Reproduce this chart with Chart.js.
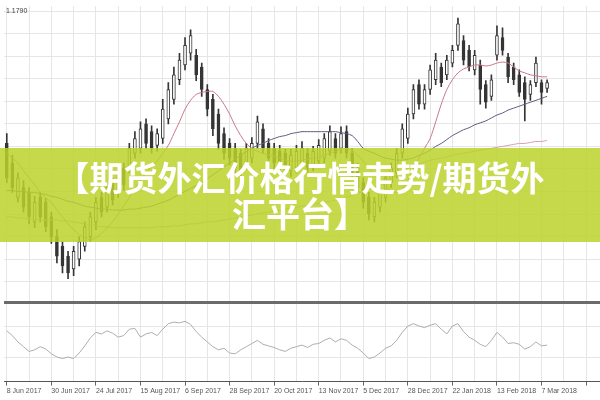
<!DOCTYPE html>
<html>
<head>
<meta charset="utf-8">
<script src="https://cdn.jsdelivr.net/npm/chart.js@4.4.1/dist/chart.umd.min.js"></script>
<style>
  body { margin: 0; background: #fff; }
  #wrap { position: relative; width: 600px; height: 400px; overflow: hidden; }
  #banner {
    position: absolute; left: 0; top: 148px; width: 600px; height: 94px;
    background: rgba(187, 210, 43, 0.85);
    display: flex; flex-direction: column; align-items: center; justify-content: center;
    color: #fff; font-family: "Noto Sans CJK SC", sans-serif; font-weight: 700;
    font-size: 34px; line-height: 36px; text-align: center;
  }
</style>
</head>
<body>
<div id="wrap">
  <canvas id="chart" width="600" height="400"></canvas>
  <div id="banner"><div>【期货外汇价格行情走势/期货外</div><div>汇平台】</div></div>
</div>
<script>
'use strict';

// date labels, one every 8 candles
const dates = ['8 Jun 2017','30 Jun 2017','24 Jul 2017','15 Aug 2017','6 Sep 2017','28 Sep 2017','20 Oct 2017',
               '13 Nov 2017','5 Dec 2017','28 Dec 2017','22 Jan 2018','13 Feb 2018','7 Mar 2018'];
const slots = 107;

const open = [1.1520,1.1480,1.1410,1.1430,1.1420,1.1360,1.1410,1.1400,1.1370,1.1330,
  1.1310,1.1290,1.1264,1.1284,1.1310,1.1330,1.1360,1.1410,1.1390,1.1440,
  1.1420,1.1470,1.1470,1.1500,1.1510,1.1560,1.1544,1.1516,1.1530,1.1570,
  1.1610,1.1650,1.1680,1.1704,1.1700,1.1676,1.1630,1.1610,1.1580,1.1540,
  1.1520,1.1510,1.1500,1.1480,1.1490,1.1520,1.1550,1.1520,1.1510,1.1504,
  1.1500,1.1464,1.1470,1.1480,1.1500,1.1476,1.1484,1.1490,1.1504,1.1530,
  1.1510,1.1544,1.1500,1.1470,1.1440,1.1410,1.1370,1.1390,1.1410,1.1440,
  1.1460,1.1500,1.1530,1.1580,1.1640,1.1600,1.1630,1.1650,1.1676,1.1660,
  1.1684,1.1720,1.1730,1.1710,1.1670,1.1680,1.1640,1.1616,1.1700,1.1736,
  1.1696,1.1676,1.1660,1.1644,1.1620,1.1644,1.1644,1.1632];
const close = [1.1450,1.1430,1.1450,1.1390,1.1370,1.1400,1.1370,1.1350,1.1330,1.1290,
  1.1270,1.1256,1.1300,1.1320,1.1350,1.1370,1.1400,1.1380,1.1430,1.1404,
  1.1460,1.1436,1.1510,1.1530,1.1550,1.1520,1.1510,1.1540,1.1590,1.1630,
  1.1660,1.1690,1.1720,1.1740,1.1660,1.1630,1.1590,1.1550,1.1520,1.1500,
  1.1490,1.1470,1.1464,1.1510,1.1520,1.1564,1.1510,1.1490,1.1480,1.1470,
  1.1460,1.1496,1.1504,1.1510,1.1470,1.1504,1.1516,1.1530,1.1544,1.1500,
  1.1540,1.1500,1.1460,1.1430,1.1400,1.1376,1.1400,1.1420,1.1450,1.1470,
  1.1500,1.1550,1.1580,1.1630,1.1600,1.1630,1.1670,1.1690,1.1644,1.1690,
  1.1710,1.1764,1.1690,1.1676,1.1700,1.1630,1.1604,1.1650,1.1740,1.1710,
  1.1656,1.1650,1.1624,1.1610,1.1640,1.1684,1.1624,1.1644];
const high = [1.1540,1.1496,1.1460,1.1444,1.1430,1.1412,1.1420,1.1408,1.1380,1.1344,
  1.1320,1.1300,1.1310,1.1330,1.1360,1.1380,1.1410,1.1420,1.1440,1.1450,
  1.1470,1.1480,1.1520,1.1544,1.1564,1.1570,1.1556,1.1550,1.1610,1.1644,
  1.1676,1.1704,1.1736,1.1752,1.1712,1.1684,1.1640,1.1620,1.1590,1.1552,
  1.1530,1.1520,1.1508,1.1520,1.1532,1.1576,1.1560,1.1530,1.1520,1.1516,
  1.1508,1.1508,1.1516,1.1524,1.1510,1.1514,1.1528,1.1540,1.1556,1.1540,
  1.1554,1.1556,1.1510,1.1480,1.1450,1.1420,1.1410,1.1430,1.1460,1.1480,
  1.1510,1.1560,1.1592,1.1640,1.1650,1.1640,1.1680,1.1704,1.1684,1.1700,
  1.1720,1.1776,1.1740,1.1720,1.1710,1.1690,1.1648,1.1660,1.1760,1.1756,
  1.1704,1.1684,1.1670,1.1656,1.1648,1.1696,1.1650,1.1650];
const low = [1.1440,1.1420,1.1400,1.1380,1.1356,1.1348,1.1360,1.1340,1.1316,1.1276,
  1.1256,1.1244,1.1250,1.1270,1.1300,1.1320,1.1344,1.1370,1.1380,1.1394,
  1.1410,1.1424,1.1460,1.1490,1.1500,1.1510,1.1500,1.1504,1.1520,1.1560,
  1.1600,1.1640,1.1670,1.1690,1.1648,1.1616,1.1576,1.1536,1.1508,1.1488,
  1.1476,1.1456,1.1452,1.1468,1.1480,1.1510,1.1500,1.1480,1.1468,1.1460,
  1.1448,1.1452,1.1460,1.1470,1.1460,1.1464,1.1476,1.1480,1.1496,1.1490,
  1.1500,1.1490,1.1448,1.1420,1.1388,1.1364,1.1360,1.1380,1.1400,1.1430,
  1.1450,1.1490,1.1520,1.1570,1.1590,1.1590,1.1620,1.1640,1.1636,1.1650,
  1.1676,1.1710,1.1680,1.1668,1.1660,1.1600,1.1592,1.1608,1.1690,1.1700,
  1.1644,1.1640,1.1616,1.1566,1.1608,1.1636,1.1600,1.1624];

// moving averages
const maFast = [1.1500,1.1490,1.1480,1.1464,1.1450,1.1436,1.1420,1.1408,1.1400,1.1384,
  1.1370,1.1356,1.1344,1.1334,1.1328,1.1324,1.1328,1.1336,1.1348,1.1360,
  1.1376,1.1392,1.1410,1.1428,1.1444,1.1460,1.1472,1.1484,1.1500,1.1516,
  1.1540,1.1564,1.1590,1.1608,1.1620,1.1624,1.1626,1.1626,1.1616,1.1600,
  1.1580,1.1556,1.1536,1.1520,1.1510,1.1504,1.1500,1.1496,1.1494,1.1490,
  1.1486,1.1484,1.1484,1.1486,1.1488,1.1490,1.1492,1.1496,1.1500,1.1504,
  1.1508,1.1510,1.1506,1.1496,1.1484,1.1470,1.1456,1.1444,1.1432,1.1424,
  1.1420,1.1428,1.1444,1.1470,1.1490,1.1510,1.1530,1.1564,1.1600,1.1630,
  1.1650,1.1664,1.1672,1.1676,1.1680,1.1680,1.1678,1.1680,1.1684,1.1686,
  1.1684,1.1676,1.1668,1.1664,1.1660,1.1658,1.1656,1.1656];
const maMid = [1.1424,1.1424,1.1422,1.1422,1.1420,1.1420,1.1418,1.1416,1.1412,1.1410,
  1.1406,1.1402,1.1400,1.1396,1.1392,1.1390,1.1388,1.1386,1.1386,1.1384,
  1.1384,1.1384,1.1386,1.1386,1.1388,1.1390,1.1392,1.1396,1.1400,1.1404,
  1.1410,1.1416,1.1422,1.1428,1.1434,1.1440,1.1448,1.1456,1.1464,1.1472,
  1.1480,1.1488,1.1496,1.1504,1.1510,1.1516,1.1520,1.1526,1.1530,1.1534,
  1.1536,1.1540,1.1542,1.1544,1.1544,1.1544,1.1544,1.1544,1.1544,1.1544,
  1.1542,1.1540,1.1536,1.1524,1.1510,1.1504,1.1500,1.1494,1.1490,1.1488,
  1.1486,1.1486,1.1488,1.1490,1.1496,1.1500,1.1506,1.1514,1.1520,1.1528,
  1.1536,1.1542,1.1548,1.1552,1.1558,1.1562,1.1566,1.1572,1.1578,1.1582,
  1.1588,1.1592,1.1596,1.1600,1.1604,1.1608,1.1612,1.1616];
const maSlow = [1.1370,1.1370,1.1368,1.1368,1.1366,1.1366,1.1364,1.1364,1.1364,1.1364,
  1.1362,1.1362,1.1360,1.1358,1.1356,1.1354,1.1352,1.1350,1.1350,1.1348,
  1.1348,1.1348,1.1348,1.1348,1.1348,1.1348,1.1348,1.1350,1.1350,1.1350,
  1.1352,1.1352,1.1354,1.1356,1.1356,1.1358,1.1360,1.1360,1.1362,1.1364,
  1.1366,1.1368,1.1370,1.1372,1.1374,1.1376,1.1378,1.1380,1.1382,1.1384,
  1.1386,1.1388,1.1390,1.1392,1.1394,1.1396,1.1398,1.1400,1.1402,1.1404,
  1.1406,1.1410,1.1414,1.1418,1.1422,1.1426,1.1430,1.1436,1.1442,1.1448,
  1.1456,1.1464,1.1470,1.1474,1.1478,1.1482,1.1486,1.1488,1.1490,1.1492,
  1.1496,1.1498,1.1500,1.1502,1.1504,1.1506,1.1508,1.1510,1.1512,1.1514,
  1.1516,1.1518,1.1520,1.1520,1.1522,1.1524,1.1524,1.1526];

// oscillator (RSI)
const rsi = [64,58,50,44,38,40,44,41,35,31,
  29,31,29,36,45,55,62,60,64,61,
  56,58,66,67,56,60,62,58,66,73,
  75,74,76,72,63,56,50,44,40,42,
  36,35,40,44,48,52,47,45,43,40,
  38,42,44,46,43,47,48,52,55,50,
  54,52,46,42,36,29,31,36,42,45,
  52,62,70,73,70,68,71,73,66,60,
  70,73,63,56,52,47,44,52,62,56,
  48,49,47,41,44,50,45,46];

const priceTicks = [1.1790,1.1744,1.1698,1.1652,1.1606,1.1560,1.1514,1.1468,1.1422,1.1376,1.1330,1.1284,1.1238];
const rsiLevels = [30, 70];

let labels = [];
for (let i = 0; i < slots; i++) {
  labels.push(i % 8 === 0 && dates[i / 8] ? dates[i / 8] : '');
}
let wicks = [], bodies = [];
for (let i = 0; i < open.length; i++) {
  wicks.push([low[i], high[i]]);
  bodies.push([open[i], close[i]]);
}
const dark = '#353535';
let isUp = ctx => close[ctx.dataIndex] > open[ctx.dataIndex];

new Chart(document.getElementById('chart'), {
  type: 'bar',
  data: {
    labels: labels,
    datasets: [
      { label: 'maFast', type: 'line', data: maFast, borderColor: '#c97888', borderWidth: 1, pointRadius: 0, tension: 0.3, yAxisID: 'y', order: 0 },
      { label: 'maMid', type: 'line', data: maMid, borderColor: '#5e5c80', borderWidth: 1, pointRadius: 0, tension: 0.3, yAxisID: 'y', order: 0 },
      { label: 'maSlow', type: 'line', data: maSlow, borderColor: '#d6a2aa', borderWidth: 1, pointRadius: 0, tension: 0.3, yAxisID: 'y', order: 0 },
      { label: 'body', data: bodies, yAxisID: 'y', grouped: false, barThickness: 3, borderWidth: 1, borderSkipped: false,
        borderColor: dark, backgroundColor: ctx => isUp(ctx) ? '#ffffff' : dark, order: 1 },
      { label: 'wick', data: wicks, yAxisID: 'y', grouped: false, barThickness: 1, backgroundColor: dark, order: 2 },
      { label: 'rsi', type: 'line', data: rsi, borderColor: '#a9afb3', borderWidth: 1, pointRadius: 0, yAxisID: 'y2', order: 0 }
    ]
  },
  options: {
    responsive: false,
    animation: false,
    devicePixelRatio: 1,
    layout: { padding: { left: 0, right: 0, top: 0, bottom: 4 } },
    plugins: { legend: { display: false }, tooltip: { enabled: false } },
    scales: {
      x: {
        grid: {
          offset: false,
          color: ctx => ctx.index % 4 === 0 ? '#e6e6e6' : 'rgba(0,0,0,0)',
          tickColor: ctx => ctx.index % 8 === 0 ? '#666' : 'rgba(0,0,0,0)',
          tickLength: 4
        },
        border: { color: '#555', width: 1 },
        ticks: {
          autoSkip: false, maxRotation: 0, align: 'start', padding: 1,
          color: '#555', font: { family: 'Liberation Sans', size: 7 },
          callback: (v, i) => labels[i]
        }
      },
      y2: {
        stack: 'panes', stackWeight: 1, min: 0, max: 100,
        afterBuildTicks: scale => { scale.ticks = rsiLevels.concat([100]).map(v => ({ value: v })); },
        grid: {
          drawTicks: false,
          color: ctx => ctx.tick.value === 100 ? '#6b6b6b' : '#e6e6e6',
          lineWidth: ctx => ctx.tick.value === 100 ? 3 : 1
        },
        border: { display: false },
        ticks: { display: false }
      },
      y: {
        stack: 'panes', stackWeight: 3.73, min: 1.1196, max: 1.1800,
        afterBuildTicks: scale => { scale.ticks = priceTicks.map(v => ({ value: v })); },
        grid: { color: '#e6e6e6', drawTicks: false },
        border: { display: false },
        ticks: {
          mirror: true, padding: 2, color: '#444', font: { family: 'Liberation Sans', size: 7 },
          callback: v => v === priceTicks[0] ? v.toFixed(4) : ''
        }
      }
    }
  }
});
</script>
</body>
</html>
